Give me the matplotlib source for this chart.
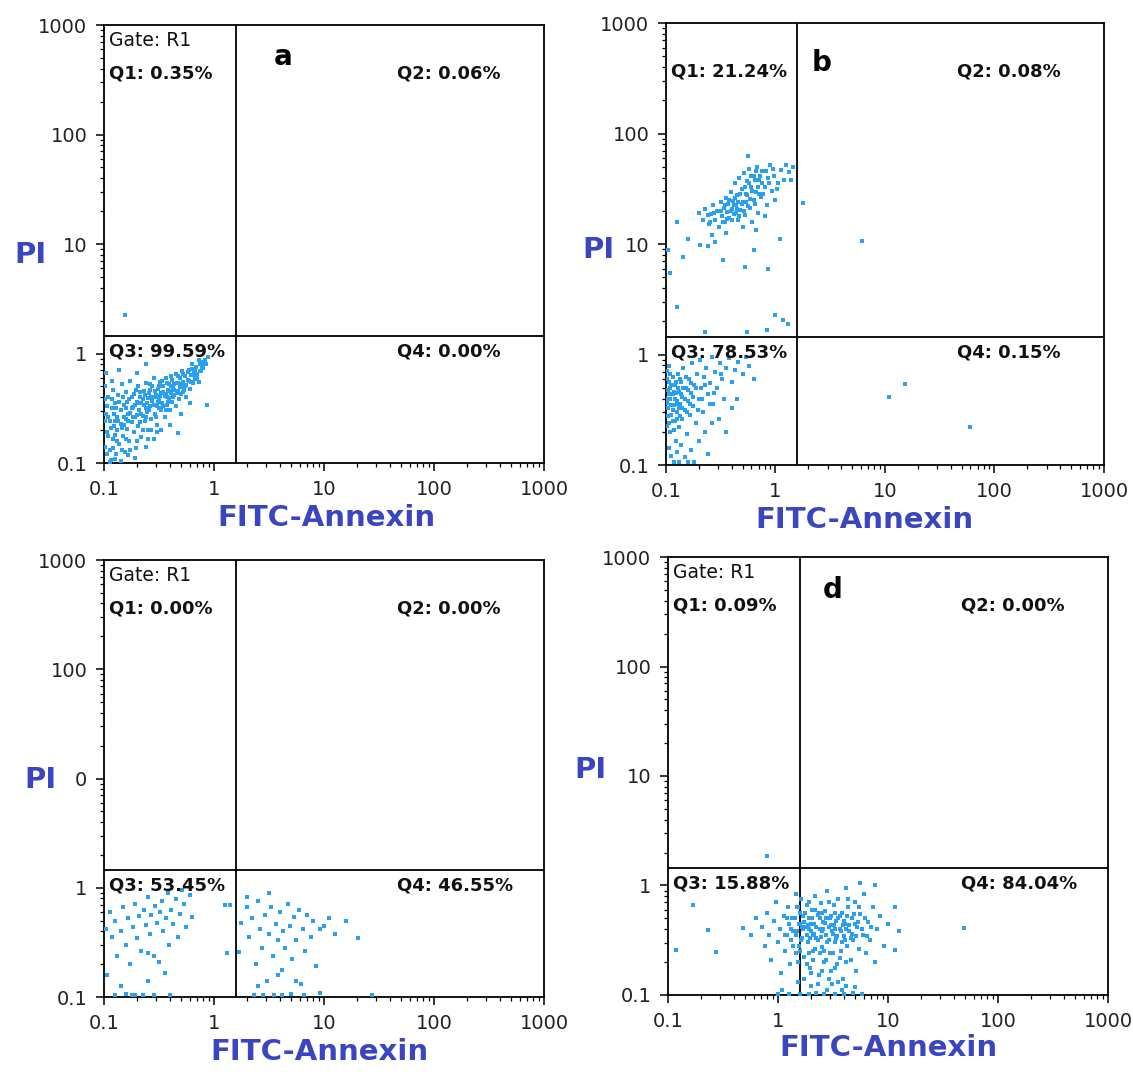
import matplotlib
matplotlib.use("Agg")
import matplotlib.pyplot as plt
import numpy as np
from matplotlib.ticker import FixedLocator, FixedFormatter, LogLocator, NullFormatter

# event positions, in log10 units (x = FITC-Annexin, y = PI)
events_a = [
    (-0.98, -0.55), (-0.97, -0.72), (-0.96, -0.40), (-0.95, -0.88), (-0.95, -0.62), (-0.94, -0.97),
    (-0.93, -0.50), (-0.92, -0.33), (-0.92, -0.78), (-0.91, -0.66), (-0.90, -0.45), (-0.89, -0.92),
    (-0.88, -0.58), (-0.88, -0.70), (-0.87, -0.38), (-0.86, -0.83), (-0.85, -0.52), (-0.85, -0.64),
    (-0.84, -0.28), (-0.83, -0.75), (-0.82, -0.47), (-0.81, -0.90), (-0.80, -0.60), (-0.80, -0.35),
    (-0.79, -0.69), (-0.78, -0.55), (-0.77, -0.42), (-0.77, -0.80), (-0.76, -0.25), (-0.75, -0.63),
    (-0.74, -0.49), (-0.73, -0.72), (-0.73, -0.37), (-0.72, -0.58), (-0.71, -0.86), (-0.70, -0.44),
    (-0.69, -0.30), (-0.69, -0.66), (-0.68, -0.52), (-0.67, -0.40), (-0.66, -0.76), (-0.65, -0.57),
    (-0.64, -0.34), (-0.64, -0.47), (-0.63, -0.62), (-0.62, -0.27), (-0.61, -0.53), (-0.60, -0.41),
    (-0.60, -0.70), (-0.59, -0.36), (-0.58, -0.48), (-0.57, -0.60), (-0.56, -0.30), (-0.56, -0.43),
    (-0.55, -0.22), (-0.54, -0.55), (-0.53, -0.38), (-0.52, -0.48), (-0.52, -0.65), (-0.51, -0.32),
    (-0.50, -0.42), (-0.49, -0.26), (-0.48, -0.52), (-0.48, -0.36), (-0.47, -0.45), (-0.46, -0.30),
    (-0.45, -0.58), (-0.45, -0.39), (-0.44, -0.22), (-0.43, -0.47), (-0.42, -0.33), (-0.41, -0.28),
    (-0.41, -0.41), (-0.40, -0.52), (-0.39, -0.36), (-0.38, -0.24), (-0.38, -0.44), (-0.37, -0.31),
    (-0.36, -0.38), (-0.35, -0.19), (-0.35, -0.48), (-0.34, -0.27), (-0.33, -0.34), (-0.32, -0.42),
    (-0.31, -0.22), (-0.30, -0.30), (-0.30, -0.37), (-0.29, -0.16), (-0.28, -0.26), (-0.27, -0.33),
    (-0.26, -0.21), (-0.25, -0.29), (-0.25, -0.40), (-0.24, -0.17), (-0.23, -0.25), (-0.22, -0.32),
    (-0.21, -0.20), (-0.20, -0.14), (-0.19, -0.27), (-0.18, -0.18), (-0.17, -0.23), (-0.16, -0.12),
    (-0.15, -0.19), (-0.14, -0.26), (-0.13, -0.10), (-0.12, -0.16), (-0.11, -0.08), (-0.10, -0.13),
    (-0.08, -0.06), (-0.07, -0.10), (-0.05, -0.03),
    (-0.95, -0.99), (-0.90, -0.96), (-0.85, -0.98), (-0.78, -0.93), (-0.72, -0.95), (-0.62, -0.85),
    (-0.55, -0.78), (-0.48, -0.70), (-0.40, -0.65), (-0.30, -0.55), (-0.22, -0.45), (-0.99, -0.30),
    (-0.98, -0.18), (-0.93, -0.25), (-0.86, -0.15), (-0.70, -0.18), (-0.62, -0.10),
    (-0.58, -0.33), (-0.54, -0.40), (-0.50, -0.50), (-0.46, -0.35), (-0.43, -0.40), (-0.39, -0.30),
    (-0.36, -0.33), (-0.33, -0.27), (-0.28, -0.35), (-0.66, -0.45), (-0.62, -0.50), (-0.75, -0.50),
    (-0.82, -0.58), (-0.90, -0.62), (-0.96, -0.75), (-0.67, -0.63), (-0.44, -0.52),
    (-0.97, -0.48), (-0.96, -0.58), (-0.94, -0.68), (-0.93, -0.42), (-0.91, -0.55), (-0.90, -0.74),
    (-0.89, -0.50), (-0.87, -0.62), (-0.86, -0.44), (-0.84, -0.68), (-0.83, -0.40), (-0.82, -0.65),
    (-0.80, -0.50), (-0.79, -0.44), (-0.78, -0.62), (-0.76, -0.54), (-0.75, -0.40), (-0.74, -0.58),
    (-0.72, -0.47), (-0.71, -0.33), (-0.70, -0.56), (-0.68, -0.45), (-0.67, -0.35), (-0.66, -0.55),
    (-0.65, -0.42), (-0.63, -0.38), (-0.62, -0.58), (-0.61, -0.45), (-0.59, -0.52), (-0.58, -0.28),
    (-0.57, -0.40), (-0.55, -0.47), (-0.54, -0.34), (-0.53, -0.58), (-0.51, -0.44), (-0.50, -0.30),
    (-0.49, -0.39), (-0.47, -0.25), (-0.46, -0.48), (-0.44, -0.37), (-0.43, -0.27), (-0.42, -0.44),
    (-0.40, -0.34), (-0.39, -0.21), (-0.37, -0.40), (-0.36, -0.28), (-0.34, -0.36), (-0.33, -0.21),
    (-0.31, -0.31), (-0.29, -0.28), (-0.28, -0.19), (-0.26, -0.30), (-0.24, -0.24), (-0.23, -0.15),
    (-0.21, -0.26), (-0.19, -0.20), (-0.17, -0.15), (-0.15, -0.22), (-0.13, -0.16), (-0.11, -0.12),
    (-0.09, -0.09), (-0.14, -0.06), (-0.20, -0.10), (-0.99, -0.85), (-0.97, -0.92), (-0.92, -0.86),
    (-0.88, -0.80), (-0.84, -0.88), (-0.80, -0.78), (-0.76, -0.88), (-0.70, -0.80), (-0.65, -0.70),
    (-0.60, -0.78), (-0.57, -0.70), (-0.52, -0.72), (-0.99, -0.42), (-0.99, -0.62),
    (-0.81, 0.35), (-0.06, -0.47), (-0.33, -0.73),
]

events_b = [
    (-0.99, -0.15), (-0.98, -0.32), (-0.98, -0.48), (-0.97, -0.62), (-0.97, -0.25), (-0.96, -0.40),
    (-0.96, -0.70), (-0.95, -0.55), (-0.94, -0.20), (-0.94, -0.36), (-0.93, -0.46), (-0.92, -0.60),
    (-0.92, -0.28), (-0.91, -0.78), (-0.90, -0.42), (-0.90, -0.52), (-0.89, -0.18), (-0.88, -0.34),
    (-0.88, -0.66), (-0.87, -0.45), (-0.86, -0.25), (-0.85, -0.58), (-0.85, -0.38), (-0.84, -0.12),
    (-0.83, -0.50), (-0.82, -0.30), (-0.81, -0.72), (-0.80, -0.42), (-0.79, -0.22), (-0.78, -0.55),
    (-0.77, -0.35), (-0.76, -0.08), (-0.75, -0.47), (-0.74, -0.28), (-0.73, -0.62), (-0.72, -0.18),
    (-0.70, -0.40), (-0.69, -0.05), (-0.68, -0.30), (-0.66, -0.52), (-0.65, -0.20), (-0.63, -0.12),
    (-0.62, -0.36), (-0.60, -0.26), (-0.58, -0.02), (-0.57, -0.45), (-0.55, -0.16), (-0.53, -0.30),
    (-0.51, -0.08), (-0.49, -0.22), (-0.47, -0.40), (-0.45, -0.12), (-0.42, -0.03), (-0.40, -0.25),
    (-0.37, -0.14), (-0.34, -0.07), (-0.30, -0.18), (-0.27, -0.02), (-0.24, -0.10), (-0.20, -0.22),
    (-0.97, -0.85), (-0.95, -0.92), (-0.93, -0.97), (-0.90, -0.88), (-0.88, -0.97), (-0.86, -0.82),
    (-0.83, -0.93), (-0.80, -0.97), (-0.77, -0.86), (-0.74, -0.97), (-0.70, -0.78), (-0.64, -0.70),
    (-0.58, -0.62), (-0.52, -0.58), (-0.45, -0.70), (-0.62, -0.90), (-0.40, -0.48), (-0.35, -0.40),
    (-0.98, -0.40), (-0.96, -0.30), (-0.94, -0.50), (-0.91, -0.35), (-0.89, -0.45), (-0.87, -0.56),
    (-0.99, -0.65), (-0.97, -0.10), (-0.93, -0.68),
    (-0.99, -0.22), (-0.99, -0.44), (-0.98, -0.56), (-0.97, -0.36), (-0.96, -0.18), (-0.95, -0.46),
    (-0.95, -0.28), (-0.94, -0.60), (-0.93, -0.34), (-0.92, -0.40), (-0.91, -0.25), (-0.90, -0.58),
    (-0.89, -0.30), (-0.88, -0.48), (-0.87, -0.22), (-0.86, -0.36), (-0.85, -0.48), (-0.84, -0.30),
    (-0.83, -0.40), (-0.82, -0.20), (-0.81, -0.52), (-0.80, -0.32), (-0.78, -0.45), (-0.77, -0.26),
    (-0.75, -0.38), (-0.73, -0.30), (-0.71, -0.50), (-0.67, -0.40), (-0.64, -0.28), (-0.60, -0.45),
    (-0.56, -0.35), (-0.50, -0.18),
    (-0.70, 1.28), (-0.66, 1.22), (-0.64, 1.32), (-0.61, 1.18), (-0.59, 1.27), (-0.57, 1.35),
    (-0.55, 1.22), (-0.53, 1.30), (-0.52, 1.15), (-0.50, 1.38), (-0.49, 1.25), (-0.47, 1.33),
    (-0.46, 1.20), (-0.45, 1.42), (-0.44, 1.29), (-0.43, 1.36), (-0.42, 1.24), (-0.41, 1.47),
    (-0.40, 1.32), (-0.39, 1.39), (-0.38, 1.27), (-0.37, 1.55), (-0.36, 1.35), (-0.35, 1.44),
    (-0.34, 1.22), (-0.33, 1.60), (-0.32, 1.31), (-0.31, 1.50), (-0.30, 1.38), (-0.29, 1.64),
    (-0.28, 1.26), (-0.27, 1.45), (-0.26, 1.57), (-0.25, 1.34), (-0.24, 1.68), (-0.23, 1.41),
    (-0.22, 1.52), (-0.21, 1.20), (-0.20, 1.62), (-0.19, 1.36), (-0.18, 1.47), (-0.17, 1.70),
    (-0.16, 1.28), (-0.15, 1.58), (-0.13, 1.43), (-0.12, 1.66), (-0.10, 1.52), (-0.08, 1.35),
    (-0.07, 1.60), (-0.05, 1.72), (-0.03, 1.48), (-0.01, 1.62), (0.02, 1.55), (0.05, 1.67),
    (0.08, 1.58), (0.12, 1.65), (0.16, 1.70), (-0.18, 1.13), (-0.30, 1.15), (-0.10, 1.25),
    (0.00, 1.40), (-0.45, 1.10), (-0.58, 1.08), (-0.25, 1.80),
    (-0.50, 1.30), (-0.48, 1.20), (-0.46, 1.35), (-0.44, 1.23), (-0.42, 1.40), (-0.41, 1.30),
    (-0.40, 1.22), (-0.38, 1.35), (-0.37, 1.42), (-0.36, 1.28), (-0.35, 1.32), (-0.34, 1.38),
    (-0.33, 1.25), (-0.32, 1.45), (-0.31, 1.36), (-0.29, 1.30), (-0.28, 1.52), (-0.27, 1.38),
    (-0.26, 1.44), (-0.24, 1.55), (-0.23, 1.33), (-0.22, 1.62), (-0.21, 1.48), (-0.20, 1.40),
    (-0.19, 1.58), (-0.18, 1.66), (-0.16, 1.52), (-0.15, 1.45), (-0.14, 1.62), (-0.12, 1.55),
    (-0.11, 1.45), (-0.09, 1.66), (-0.06, 1.55), (-0.02, 1.68), (0.01, 1.50), (0.10, 1.72),
    (0.14, 1.58), (-0.60, 1.20), (-0.56, 1.28), (-0.62, 1.26),
    (-0.84, 0.88), (-0.69, 0.99), (-0.48, 0.86), (-0.28, 0.79), (-0.07, 0.77), (0.04, 1.05),
    (-0.96, 0.74), (-0.90, 0.43), (0.00, 0.36), (0.07, 0.31), (0.11, 0.28), (-0.08, 0.22),
    (-0.26, 0.20), (-0.64, 0.20), (-0.90, 1.20), (-0.80, 1.05), (-0.98, 0.95), (-0.62, 0.98),
    (-0.55, 1.02), (-0.20, 0.95), (0.25, 1.37), (0.79, 1.03), (1.04, -0.38), (1.18, -0.27),
    (1.78, -0.66),
]

events_c = [
    (-0.98, -0.38), (-0.95, -0.22), (-0.93, -0.45), (-0.90, -0.30), (-0.88, -0.62), (-0.85, -0.40),
    (-0.83, -0.18), (-0.80, -0.52), (-0.78, -0.28), (-0.76, -0.70), (-0.74, -0.36), (-0.72, -0.15),
    (-0.70, -0.46), (-0.68, -0.26), (-0.66, -0.58), (-0.64, -0.20), (-0.62, -0.34), (-0.60, -0.08),
    (-0.58, -0.42), (-0.57, -0.25), (-0.55, -0.62), (-0.54, -0.17), (-0.52, -0.32), (-0.50, -0.68),
    (-0.49, -0.22), (-0.47, -0.12), (-0.46, -0.40), (-0.44, -0.28), (-0.42, -0.05), (-0.41, -0.52),
    (-0.39, -0.20), (-0.37, -0.33), (-0.35, -0.10), (-0.33, -0.45), (-0.31, -0.24), (-0.29, -0.02),
    (-0.27, -0.15), (-0.25, -0.36), (-0.22, -0.07), (-0.20, -0.27), (-0.97, -0.80), (-0.90, -0.98),
    (-0.80, -0.97), (-0.75, -0.98), (-0.72, -0.98), (-0.65, -0.98), (-0.60, -0.85), (-0.55, -0.98),
    (-0.45, -0.78), (-0.40, -0.98), (-0.85, -0.90), (-0.60, -0.60), (0.10, -0.16), (0.15, -0.16),
    (0.12, -0.60),
    (0.23, -0.59), (0.25, -0.32), (0.30, -0.18), (0.32, -0.45), (0.35, -0.28), (0.38, -0.70),
    (0.40, -0.12), (0.42, -0.38), (0.44, -0.55), (0.46, -0.25), (0.48, -0.85), (0.50, -0.42),
    (0.52, -0.18), (0.54, -0.62), (0.56, -0.33), (0.58, -0.48), (0.60, -0.22), (0.62, -0.75),
    (0.63, -0.40), (0.65, -0.55), (0.67, -0.15), (0.69, -0.35), (0.71, -0.65), (0.73, -0.27),
    (0.75, -0.48), (0.77, -0.20), (0.79, -0.88), (0.81, -0.38), (0.83, -0.58), (0.85, -0.25),
    (0.88, -0.45), (0.90, -0.30), (0.93, -0.72), (0.96, -0.38), (1.00, -0.35), (1.05, -0.28),
    (1.10, -0.42), (1.20, -0.30), (1.31, -0.46), (0.36, -0.98), (0.45, -0.98), (0.55, -0.98),
    (0.62, -0.98), (0.70, -0.97), (0.82, -0.98), (0.96, -0.96), (1.44, -0.98), (0.40, -0.90),
    (0.58, -0.80), (0.75, -0.85), (0.30, -0.08), (0.50, -0.05),
]

events_d = [
    (0.15, -0.30), (0.17, -0.42), (0.18, -0.20), (0.19, -0.55), (0.20, -0.35), (0.21, -0.12),
    (0.22, -0.48), (0.23, -0.28), (0.24, -0.65), (0.25, -0.38), (0.26, -0.18), (0.27, -0.52),
    (0.28, -0.30), (0.29, -0.75), (0.30, -0.42), (0.31, -0.22), (0.32, -0.60), (0.33, -0.35),
    (0.34, -0.10), (0.35, -0.48), (0.36, -0.27), (0.37, -0.82), (0.38, -0.40), (0.39, -0.16),
    (0.40, -0.56), (0.41, -0.33), (0.42, -0.70), (0.43, -0.23), (0.44, -0.45), (0.45, -0.05),
    (0.46, -0.38), (0.47, -0.62), (0.48, -0.28), (0.49, -0.90), (0.50, -0.44), (0.51, -0.18),
    (0.52, -0.52), (0.53, -0.32), (0.54, -0.72), (0.55, -0.12), (0.56, -0.40), (0.57, -0.60),
    (0.58, -0.25), (0.59, -0.85), (0.60, -0.46), (0.61, -0.35), (0.62, -0.02), (0.63, -0.55),
    (0.64, -0.20), (0.65, -0.42), (0.66, -0.68), (0.67, -0.30), (0.68, -0.50), (0.70, -0.15),
    (0.71, -0.78), (0.72, -0.38), (0.74, -0.58), (0.75, -0.26), (0.77, -0.45), (0.78, -0.08),
    (0.80, -0.62), (0.82, -0.33), (0.84, -0.50), (0.86, -0.20), (0.88, -0.70), (0.90, -0.40),
    (0.93, -0.28), (0.96, -0.55), (1.00, -0.35), (1.06, -0.20), (1.06, -0.59), (1.10, -0.42),
    (-0.15, -0.38), (-0.12, -0.55), (-0.10, -0.25), (-0.08, -0.45), (-0.06, -0.68), (-0.04, -0.32),
    (-0.02, -0.15), (0.00, -0.52), (0.02, -0.40), (0.03, -0.80), (0.05, -0.28), (0.06, -0.60),
    (0.08, -0.45), (0.09, -0.20), (0.10, -0.35), (0.11, -0.72), (0.12, -0.50), (0.13, -0.30),
    (0.14, -0.42), (0.16, -0.62), (0.18, -0.88), (0.16, -0.08), (0.04, -0.95), (-0.20, -0.30),
    (-0.25, -0.45),
    (0.00, -0.99), (0.10, -0.99), (0.20, -0.99), (0.28, -0.99), (0.35, -0.98), (0.42, -0.99),
    (0.52, -0.99), (0.60, -0.99), (0.68, -0.98), (0.76, -0.99), (0.30, -0.92), (0.45, -0.95),
    (0.62, -0.92), (0.24, -0.85), (0.55, -0.88), (0.70, -0.93),
    (0.28, -0.40), (0.32, -0.45), (0.36, -0.50), (0.40, -0.42), (0.44, -0.30), (0.48, -0.36),
    (0.52, -0.40), (0.56, -0.28), (0.60, -0.32), (0.38, -0.30), (0.30, -0.35), (0.26, -0.45),
    (0.34, -0.58), (0.46, -0.50), (0.54, -0.46), (0.62, -0.40), (0.22, -0.38), (0.42, -0.60),
    (0.50, -0.62), (0.66, -0.48), (0.20, -0.25), (0.24, -0.33), (0.34, -0.22), (0.46, -0.15),
    (0.58, -0.52), (0.70, -0.35), (0.18, -0.70), (0.28, -0.62), (0.40, -0.78), (0.52, -0.75),
    (0.16, -0.45), (0.19, -0.35), (0.21, -0.50), (0.23, -0.40), (0.25, -0.25), (0.27, -0.36),
    (0.29, -0.48), (0.31, -0.30), (0.33, -0.44), (0.35, -0.38), (0.37, -0.25), (0.39, -0.47),
    (0.41, -0.40), (0.43, -0.34), (0.45, -0.52), (0.47, -0.30), (0.49, -0.42), (0.51, -0.36),
    (0.53, -0.48), (0.55, -0.30), (0.57, -0.42), (0.59, -0.36), (0.61, -0.50), (0.63, -0.28),
    (0.65, -0.36), (0.67, -0.44), (0.69, -0.26), (0.71, -0.46), (0.73, -0.33), (0.76, -0.40),
    (0.79, -0.30), (0.81, -0.46), (0.85, -0.38), (0.20, -0.60), (0.26, -0.72), (0.32, -0.68),
    (0.38, -0.62), (0.44, -0.68), (0.48, -0.78), (0.56, -0.66), (0.62, -0.70), (0.30, -0.80),
    (0.36, -0.90), (0.46, -0.85), (0.58, -0.95), (0.17, -0.20), (0.28, -0.15), (0.40, -0.25),
    (0.52, -0.25), (0.64, -0.12), (0.74, -0.20), (0.12, -0.40), (0.08, -0.30), (0.14, -0.55),
    (0.06, -0.45),
    (-0.77, -0.18), (-0.64, -0.41), (-0.93, -0.59), (-0.56, -0.61), (-0.32, -0.39), (-0.10, 0.27),
    (1.69, -0.39), (0.88, 0.00), (0.75, 0.02),
]

quadrant_pct = [
    ["0.35", "0.06", "99.59", "0.00"],
    ["21.24", "0.08", "78.53", "0.15"],
    ["0.00", "0.00", "53.45", "46.55"],
    ["0.09", "0.00", "15.88", "84.04"],
]
panel_letters = ["a", "b", "", "d"]
show_gate = [True, False, True, True]
x_ticks = [0.1, 1, 10, 100, 1000]
x_ticklabels = ["0.1", "1", "10", "100", "1000"]
y_ticklabels = [
    ["0.1", "1", "10", "100", "1000"],
    ["0.1", "1", "10", "100", "1000"],
    ["0.1", "1", "0", "100", "1000"],
    ["0.1", "1", "10", "100", "1000"],
]
gate_x = 1.58
gate_y = 1.45

dot_color = "#2b9ff0"
label_color = "#3b45c0"

fig = plt.figure(figsize=(11.33, 10.78), dpi=100)
rects = [
    [0.0918, 0.5705, 0.3883, 0.4063],
    [0.5878, 0.5686, 0.3866, 0.4100],
    [0.0918, 0.0751, 0.3883, 0.4054],
    [0.5896, 0.0770, 0.3883, 0.4063],
]
pi_pos = [(-0.168, 0.475), (-0.155, 0.486), (-0.145, 0.497), (-0.177, 0.514)]
fitc_pos = [(0.505, -0.126), (0.454, -0.124), (0.49, -0.126), (0.50, -0.121)]
letter_pos = [(0.407, 0.927), (0.356, 0.91), (0.4, 0.92), (0.375, 0.925)]


def draw_panel(ax, events, i):
    lx, ly = zip(*events)
    ax.scatter(10 ** np.array(lx), 10 ** np.array(ly), s=6, marker="s",
               color=dot_color, linewidths=0, zorder=3)
    ax.set_xscale("log")
    ax.set_yscale("log")
    ax.set_xlim(0.1, 1000)
    ax.set_ylim(0.1, 1000)
    ax.axvline(gate_x, color="black", lw=1.3, zorder=2)
    ax.axhline(gate_y, color="black", lw=1.3, zorder=2)

    ax.xaxis.set_major_locator(FixedLocator(x_ticks))
    ax.xaxis.set_major_formatter(FixedFormatter(x_ticklabels))
    ax.yaxis.set_major_locator(FixedLocator(x_ticks))
    ax.yaxis.set_major_formatter(FixedFormatter(y_ticklabels[i]))
    for axis in (ax.xaxis, ax.yaxis):
        axis.set_minor_locator(LogLocator(base=10, subs=np.arange(2, 10)))
        axis.set_minor_formatter(NullFormatter())
    ax.tick_params(which="major", direction="out", length=6, width=1.1,
                   labelsize=14, labelcolor="#222222", pad=6)
    ax.tick_params(which="minor", direction="out", length=3, width=0.9)
    for sp in ax.spines.values():
        sp.set_linewidth(1.3)

    q1, q2, q3, q4 = quadrant_pct[i]
    bold = dict(fontsize=13, fontweight="bold", color="#111111", va="center",
                transform=ax.transAxes, zorder=4)
    if show_gate[i]:
        ax.text(0.012, 0.965, "Gate: R1", fontsize=13.5, color="#111111",
                va="center", transform=ax.transAxes)
    ax.text(0.012, 0.89, "Q1: %s%%" % q1, **bold)
    ax.text(0.665, 0.89, "Q2: %s%%" % q2, **bold)
    ax.text(0.012, 0.255, "Q3: %s%%" % q3, **bold)
    ax.text(0.665, 0.255, "Q4: %s%%" % q4, **bold)
    if panel_letters[i]:
        lxp, lyp = letter_pos[i]
        ax.text(lxp, lyp, panel_letters[i], fontsize=20, fontweight="bold",
                color="black", ha="center", va="center", transform=ax.transAxes)

    px, py = pi_pos[i]
    ax.text(px, py, "PI", fontsize=21, fontweight="bold", color=label_color,
            ha="center", va="center", transform=ax.transAxes)
    fx, fy = fitc_pos[i]
    ax.text(fx, fy, "FITC-Annexin", fontsize=21, fontweight="bold", color=label_color,
            ha="center", va="center", transform=ax.transAxes)


all_events = [events_a, events_b, events_c, events_d]
for i in range(4):
    ax = fig.add_axes(rects[i])
    draw_panel(ax, all_events[i], i)

fig.savefig("out.png", dpi=100)
